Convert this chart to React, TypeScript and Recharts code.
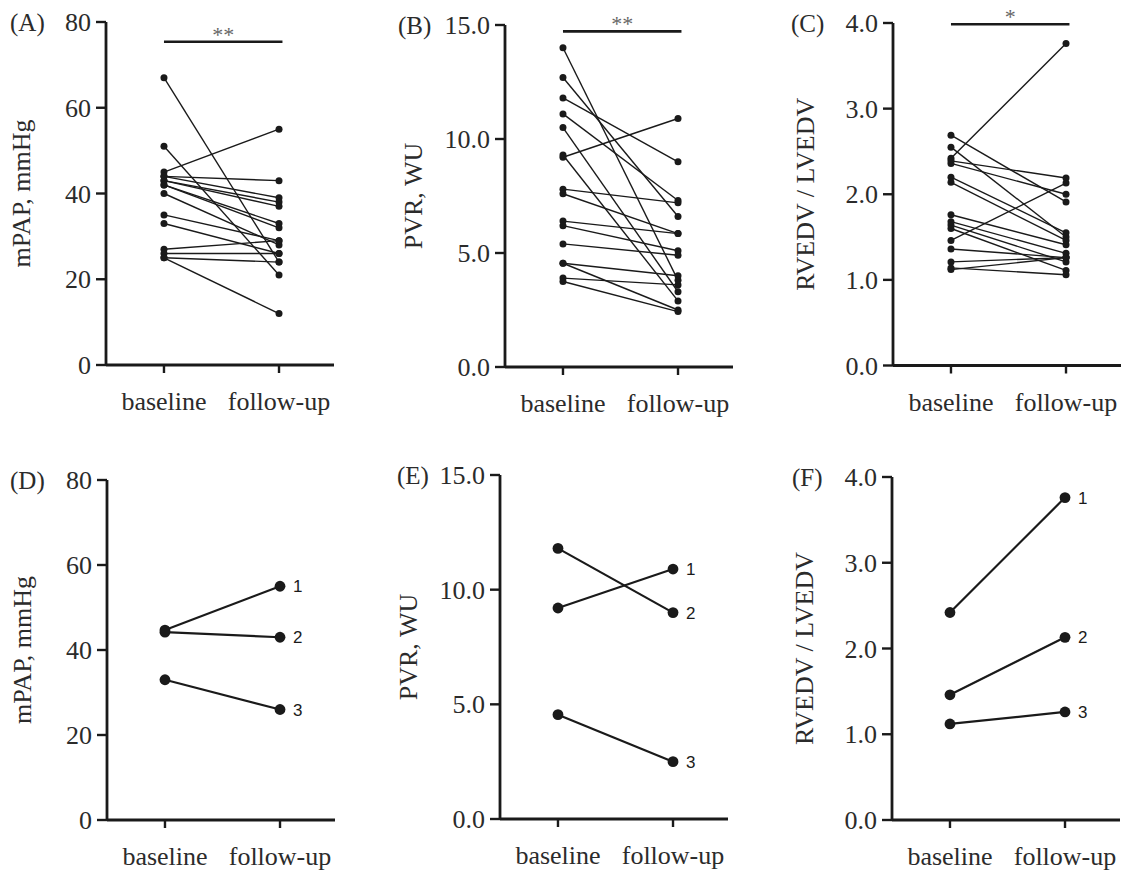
import React from "react";
import { LineChart, Line, XAxis, YAxis, ReferenceLine, Label } from "recharts";

const timepoints = ["baseline", "follow-up"];

// (A) mPAP, mmHg - all patients
const mpapBaseline = [45, 44, 33, 67, 51, 44, 43, 43, 42, 42, 40, 35, 27, 26, 25, 25];
const mpapFollowUp = [55, 43, 26, 24, 21, 39, 38, 37, 33, 32, 28, 29, 29, 26, 24, 12];

// (B) PVR, WU
const pvrBaseline = [9.2, 11.8, 4.55, 14.0, 12.7, 11.1, 10.5, 9.3, 7.8, 7.6, 6.4, 6.2, 5.4, 4.55, 3.9, 3.75];
const pvrFollowUp = [10.9, 9.0, 2.5, 3.8, 6.6, 7.3, 3.3, 2.9, 7.2, 5.85, 5.85, 5.1, 4.9, 4.0, 3.6, 2.43];

// (C) RVEDV / LVEDV
const ratioBaseline = [2.42, 1.46, 1.12, 2.69, 2.55, 2.39, 2.36, 2.2, 2.14, 1.76, 1.68, 1.64, 1.6, 1.36, 1.21, 1.14];
const ratioFollowUp = [3.76, 2.13, 1.26, 1.91, 1.5, 2.19, 2.0, 1.55, 1.46, 1.41, 1.31, 1.21, 1.11, 1.26, 1.26, 1.06];

// (D)-(F) the three numbered patients
const caseIds = ["1", "2", "3"];
const caseMpapBaseline = [44.7, 44.2, 33];
const caseMpapFollowUp = [55, 43, 26];
const casePvrBaseline = [9.2, 11.8, 4.55];
const casePvrFollowUp = [10.9, 9.0, 2.5];
const caseRatioBaseline = [2.42, 1.46, 1.12];
const caseRatioFollowUp = [3.76, 2.13, 1.26];

const mpapTicks = [0, 20, 40, 60, 80];
const pvrTicks = [0, 5, 10, 15];
const ratioTicks = [0, 1, 2, 3, 4];

const SERIF = "'Liberation Serif', 'Times New Roman', Times, serif";
const SANS = "'Liberation Sans', Arial, sans-serif";
const INK = "#1a1a1a";
const TXT = "#2b2b2b";

// geometry of one panel (px)
const Y_W = 110;
const PLOT_W = 228;
const M_TOP = 20;
const X_H = 53;

function toRows(base: number[], follow: number[]) {
  return [base, follow].map((vals, t) => {
    const row: Record<string, number> = { t };
    vals.forEach((v, i) => {
      row[`p${i}`] = v;
    });
    return row;
  });
}

interface PanelProps {
  x0: number;
  top: number;
  bottom: number;
  letter: string;
  letterDx: number;
  title: string;
  titleDx: number;
  ticks: number[];
  decimals: number;
  base: number[];
  follow: number[];
  ids?: string[];
  sig?: { y: number; text: string };
}

function Panel({ x0, top, bottom, letter, letterDx, title, titleDx, ticks, decimals, base, follow, ids, sig }: PanelProps) {
  const data = toRows(base, follow);
  const plotH = bottom - top;
  const big = !!ids;
  const r = big ? 5.4 : 3.5;

  return (
    <div style={{ position: "absolute", left: x0 - Y_W, top: top - M_TOP }}>
      <LineChart
        width={Y_W + PLOT_W + 4}
        height={M_TOP + plotH + X_H}
        data={data}
        margin={{ top: M_TOP, right: 4, left: 0, bottom: 0 }}
      >
        <XAxis
          dataKey="t"
          type="number"
          domain={[-0.504, 1.478]}
          ticks={[0, 1]}
          interval={0}
          height={X_H}
          tickSize={8}
          tickMargin={2}
          axisLine={{ stroke: INK, strokeWidth: 2.8 }}
          tickLine={{ stroke: INK, strokeWidth: 2.4 }}
          tick={(tp: any) => (
            <text x={tp.x} y={tp.y + 35} textAnchor="middle" fontFamily={SERIF} fontSize={26} fill={TXT}>
              {timepoints[tp.payload.value]}
            </text>
          )}
        />
        <YAxis
          type="number"
          domain={[0, ticks[ticks.length - 1]]}
          ticks={ticks}
          interval={0}
          width={Y_W}
          tickSize={10}
          tickMargin={5}
          axisLine={{ stroke: INK, strokeWidth: 2.8 }}
          tickLine={{ stroke: INK, strokeWidth: 2.4 }}
          tick={(tp: any) => (
            <text x={tp.x} y={tp.y} dy={9} textAnchor="end" fontFamily={SERIF} fontSize={26} fill={TXT}>
              {Number(tp.payload.value).toFixed(decimals)}
            </text>
          )}
        >
          <Label
            content={() => (
              <text x={Y_W + letterDx} y={M_TOP + 8.5} fontFamily={SERIF} fontSize={25} fill={TXT}>
                {letter}
              </text>
            )}
          />
          <Label
            content={() => (
              <text
                transform={`translate(${Y_W + titleDx},${M_TOP + plotH / 2}) rotate(-90)`}
                textAnchor="middle"
                fontFamily={SERIF}
                fontSize={26}
                fill={TXT}
              >
                {title}
              </text>
            )}
          />
        </YAxis>
        {sig && (
          <ReferenceLine
            segment={[
              { x: 0, y: sig.y },
              { x: 1.03, y: sig.y },
            ]}
            stroke={INK}
            strokeWidth={2.6}
            ifOverflow="visible"
            label={{ value: sig.text, position: "top", offset: 0, fill: "#666", fontSize: 22, fontFamily: SERIF }}
          />
        )}
        {base.map((_, i) => (
          <Line
            key={i}
            dataKey={`p${i}`}
            type="linear"
            stroke={INK}
            strokeWidth={big ? 2.2 : 1.4}
            isAnimationActive={false}
            activeDot={false}
            dot={
              big
                ? (dp: any) => (
                    <g key={`d${i}-${dp.index}`}>
                      <circle cx={dp.cx} cy={dp.cy} r={r} fill={INK} />
                      {dp.index === 1 && (
                        <text x={dp.cx + 13} y={dp.cy} dy="0.36em" fontFamily={SANS} fontSize={17} fill={INK}>
                          {ids![i]}
                        </text>
                      )}
                    </g>
                  )
                : { r, fill: INK, stroke: INK, strokeWidth: 0 }
            }
          />
        ))}
      </LineChart>
    </div>
  );
}

export default function App() {
  return (
    <div
      style={{
        position: "absolute",
        left: 0,
        top: 0,
        width: 1126,
        height: 873,
        overflow: "hidden",
        background: "#fff",
      }}
    >
      <Panel
        x0={106} top={22} bottom={365}
        letter="(A)" letterDx={-96} title="mPAP, mmHg" titleDx={-76}
        ticks={mpapTicks} decimals={0}
        base={mpapBaseline} follow={mpapFollowUp}
        sig={{ y: 75.4, text: "**" }}
      />
      <Panel
        x0={505} top={25} bottom={367}
        letter="(B)" letterDx={-107} title="PVR, WU" titleDx={-83}
        ticks={pvrTicks} decimals={1}
        base={pvrBaseline} follow={pvrFollowUp}
        sig={{ y: 14.72, text: "**" }}
      />
      <Panel
        x0={893} top={22.5} bottom={365}
        letter="(C)" letterDx={-102} title="RVEDV / LVEDV" titleDx={-79}
        ticks={ratioTicks} decimals={1}
        base={ratioBaseline} follow={ratioFollowUp}
        sig={{ y: 3.985, text: "*" }}
      />
      <Panel
        x0={107} top={480} bottom={820}
        letter="(D)" letterDx={-97} title="mPAP, mmHg" titleDx={-76}
        ticks={mpapTicks} decimals={0}
        base={caseMpapBaseline} follow={caseMpapFollowUp} ids={caseIds}
      />
      <Panel
        x0={500} top={475} bottom={819}
        letter="(E)" letterDx={-103} title="PVR, WU" titleDx={-83}
        ticks={pvrTicks} decimals={1}
        base={casePvrBaseline} follow={casePvrFollowUp} ids={caseIds}
      />
      <Panel
        x0={892} top={477} bottom={820}
        letter="(F)" letterDx={-100} title="RVEDV / LVEDV" titleDx={-79}
        ticks={ratioTicks} decimals={1}
        base={caseRatioBaseline} follow={caseRatioFollowUp} ids={caseIds}
      />
    </div>
  );
}
